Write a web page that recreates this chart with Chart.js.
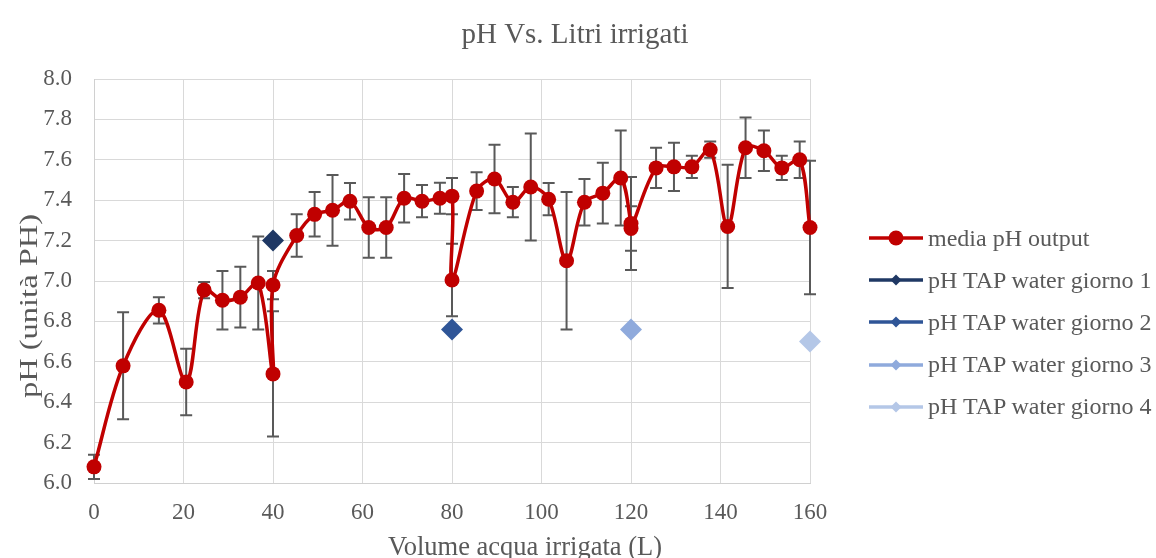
<!DOCTYPE html>
<html>
<head>
<meta charset="utf-8">
<script src="https://cdn.jsdelivr.net/npm/chart.js@4/dist/chart.umd.min.js"></script>
<style>
  html, body { margin: 0; padding: 0; background: #fff; }
  #wrap { position: relative; width: 1156px; height: 558px; }
  #legenda { position: absolute; left: 0; top: 0; font-family: "Liberation Serif", "Times New Roman", serif; font-size: 24px; color: #595959; }
  #legenda .voce { position: absolute; left: 869px; height: 42px; display: flex; align-items: center; white-space: nowrap; }
  #legenda svg { margin-right: 5px; }
</style>
</head>
<body>
<div id="wrap">
  <canvas id="myChart" width="1156" height="558"></canvas>
  <div id="legenda"></div>
</div>
<script>
// volume irrigato (L) e pH medio in uscita, con deviazione
const volumi = [0, 6.5, 14.5, 20.6, 24.6, 28.7, 32.7, 36.7, 40, 40, 45.3, 49.3, 53.3, 57.2,
  61.4, 65.3, 69.3, 73.3, 77.3, 80, 80, 85.5, 89.5, 93.6, 97.6, 101.6, 105.6, 109.6, 113.7,
  117.7, 120, 120, 125.6, 129.6, 133.6, 137.7, 141.6, 145.6, 149.7, 153.7, 157.7, 160];
const phMedia = [6.08, 6.58, 6.855, 6.50, 6.955, 6.905, 6.92, 6.99, 6.54, 6.98, 7.225, 7.33,
  7.35, 7.395, 7.265, 7.265, 7.41, 7.395, 7.41, 7.42, 7.005, 7.445, 7.505, 7.39, 7.465, 7.405,
  7.10, 7.39, 7.435, 7.51, 7.285, 7.26, 7.56, 7.565, 7.565, 7.65, 7.27, 7.66, 7.645, 7.56,
  7.60, 7.265];
const phErr = [0.06, 0.265, 0.065, 0.165, 0.04, 0.145, 0.15, 0.23, 0.31, 0.07, 0.105, 0.11,
  0.175, 0.09, 0.15, 0.15, 0.12, 0.08, 0.077, 0.09, 0.18, 0.093, 0.17, 0.075, 0.265, 0.08,
  0.34, 0.115, 0.15, 0.235, 0.23, 0.11, 0.10, 0.12, 0.055, 0.04, 0.305, 0.15, 0.10, 0.06,
  0.09, 0.33];

// acqua di rubinetto
const tapVolumi = [40, 80, 120, 160];
const tapPh = [7.20, 6.76, 6.76, 6.70];
const tapNomi = ["pH TAP water giorno 1", "pH TAP water giorno 2", "pH TAP water giorno 3", "pH TAP water giorno 4"];
const tapColori = ["#1F3864", "#2F5597", "#8FAADC", "#B4C7E7"];

const xTicks = [0, 20, 40, 60, 80, 100, 120, 140, 160];
const yTicks = [6.0, 6.2, 6.4, 6.6, 6.8, 7.0, 7.2, 7.4, 7.6, 7.8, 8.0];

const FONT = "'Liberation Serif', 'Times New Roman', serif";
const GRIGIO = "#595959";

// barre d'errore
const erroriPlugin = {
  id: "errori",
  beforeDatasetsDraw(chart) {
    const {ctx, scales: {x, y}} = chart;
    ctx.save();
    ctx.strokeStyle = "#595959";
    ctx.lineWidth = 2;
    for (let i = 0; i < volumi.length; i++) {
      const px = x.getPixelForValue(volumi[i]);
      const top = y.getPixelForValue(phMedia[i] + phErr[i]);
      const bot = y.getPixelForValue(phMedia[i] - phErr[i]);
      ctx.beginPath();
      ctx.moveTo(px, top); ctx.lineTo(px, bot);
      ctx.moveTo(px - 6, top); ctx.lineTo(px + 6, top);
      ctx.moveTo(px - 6, bot); ctx.lineTo(px + 6, bot);
      ctx.stroke();
    }
    ctx.restore();
  }
};

// titolo e titoli degli assi
const titoli = {
  id: "titoli",
  afterDraw(chart) {
    const {ctx} = chart;
    ctx.save();
    ctx.fillStyle = GRIGIO;
    ctx.textAlign = "center";
    ctx.textBaseline = "alphabetic";
    ctx.font = "29px " + FONT;
    ctx.fillText("pH Vs. Litri irrigati", 575, 43);
    ctx.font = "26.5px " + FONT;
    ctx.fillText("Volume acqua irrigata (L)", 525, 555);
    ctx.translate(37, 306);
    ctx.rotate(-Math.PI / 2);
    ctx.scale(1.25, 1);
    ctx.font = "26px " + FONT;
    ctx.fillText("pH (unità PH)", 0, 0);
    ctx.restore();
  }
};

function icona(ds) {
  const c = ds.borderColor;
  let m;
  if (ds.pointStyle === "circle") {
    m = `<circle cx="27" cy="8" r="7.5" fill="${c}"/>`;
  } else {
    m = `<polygon points="27,2.5 32.5,8 27,13.5 21.5,8" fill="${c}"/>`;
  }
  return `<svg width="54" height="16"><line x1="0" y1="8" x2="54" y2="8" stroke="${c}" stroke-width="3.5"/>${m}</svg>`;
}

const legendaHtml = {
  id: "legendaHtml",
  afterUpdate(chart) {
    const box = document.getElementById("legenda");
    box.innerHTML = "";
    chart.data.datasets.forEach((ds, i) => {
      const r = document.createElement("div");
      r.className = "voce";
      r.style.top = (217 + i * 42.2) + "px";
      r.innerHTML = icona(ds) + "<span>" + ds.label + "</span>";
      box.appendChild(r);
    });
  }
};

const datasets = [{
  label: "media pH output",
  data: volumi.map((v, i) => ({x: v, y: phMedia[i]})),
  borderColor: "#C00000",
  backgroundColor: "#C00000",
  borderWidth: 3.5,
  tension: 0.33,
  pointStyle: "circle",
  pointRadius: 7.5,
  pointHoverRadius: 7.5,
  pointBorderWidth: 0,
  clip: false
}];
tapVolumi.forEach((v, i) => {
  datasets.push({
    label: tapNomi[i],
    data: [{x: v, y: tapPh[i]}],
    borderColor: tapColori[i],
    backgroundColor: tapColori[i],
    showLine: false,
    pointStyle: "rectRot",
    pointRadius: 11,
    pointHoverRadius: 11,
    pointBorderWidth: 0,
    clip: false
  });
});

new Chart("myChart", {
  type: "line",
  data: {datasets: datasets},
  plugins: [erroriPlugin, titoli, legendaHtml],
  options: {
    responsive: false,
    animation: false,
    layout: {padding: {left: 0, right: 346, top: 79, bottom: 0}},
    plugins: {
      legend: {display: false},
      tooltip: {enabled: false},
      title: {display: false}
    },
    scales: {
      x: {
        type: "linear",
        min: 0,
        max: 160,
        afterBuildTicks: s => { s.ticks = xTicks.map(v => ({value: v})); },
        afterFit: s => { s.height = 75; },
        grid: {color: "#d9d9d9", lineWidth: 1, drawTicks: false},
        border: {color: "#d0d0d0", width: 1},
        ticks: {color: GRIGIO, font: {family: FONT, size: 23}, padding: 16}
      },
      y: {
        min: 6,
        max: 8,
        afterBuildTicks: s => { s.ticks = yTicks.map(v => ({value: v})); },
        afterFit: s => { s.width = 94; },
        grid: {color: "#d9d9d9", lineWidth: 1, drawTicks: false},
        border: {color: "#d0d0d0", width: 1},
        ticks: {
          color: GRIGIO,
          font: {family: FONT, size: 23},
          padding: 22,
          callback: v => Number(v).toFixed(1)
        }
      }
    }
  }
});
</script>
</body>
</html>
